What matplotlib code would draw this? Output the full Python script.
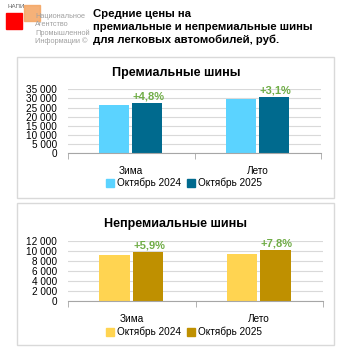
import matplotlib
matplotlib.use("Agg")
import matplotlib.pyplot as plt
from matplotlib.patches import Rectangle, Patch
import numpy as np

plt.rcParams["font.family"] = ["Liberation Sans", "DejaVu Sans"]

categories = ["Зима", "Лето"]
series_names = ["Октябрь 2024", "Октябрь 2025"]

premium_2024 = [26400, 29850]
premium_2025 = [27670, 30780]
premium_growth = ["+4,8%", "+3,1%"]
premium_ticks = [0, 5000, 10000, 15000, 20000, 25000, 30000, 35000]

mass_2024 = [9150, 9350]
mass_2025 = [9690, 10080]
mass_growth = ["+5,9%", "+7,8%"]
mass_ticks = [0, 2000, 4000, 6000, 8000, 10000, 12000]

W = H = 353


def fr(x, y, w, h):
    # pixel box (top-left origin) -> figure fraction
    return [x / W, 1 - (y + h) / H, w / W, h / H]


def fmt(v):
    return f"{v:,}".replace(",", " ")


fig = plt.figure(figsize=(W / 100, H / 100), dpi=100)
fig.patch.set_facecolor("white")

# logo
fig.patches.append(Rectangle((6 / W, 1 - 29 / H), 16 / W, 16 / H, transform=fig.transFigure,
                             color="#FF0000", zorder=1))
fig.patches.append(Rectangle((24 / W, 1 - 21 / H), 16 / W, 16 / H, transform=fig.transFigure,
                             color="#F4A460", alpha=0.85, zorder=2))
fig.text(7 / W, 1 - 7 / H, "НАПИ", fontsize=4.5, color="#666666", va="center")
for i, line in enumerate(["Национальное", "Агентство", "Промышленной", "Информации ©"]):
    fig.text(35 / W, 1 - (16.5 + 8.3 * i) / H, line, fontsize=5.3, color="#A0A0A0", va="center", zorder=3)

# title
for i, line in enumerate(["Средние цены на",
                          "премиальные и непремиальные шины",
                          "для легковых автомобилей, руб."]):
    fig.text(93 / W, 1 - (14 + 13 * i) / H, line, fontsize=8.2, fontweight="bold", va="center")

# panel frames
for y0, y1 in [(57, 198), (203, 345)]:
    fig.patches.append(Rectangle((17 / W, 1 - y1 / H), 317 / W, (y1 - y0) / H,
                                 transform=fig.transFigure, fill=False,
                                 edgecolor="#D9D9D9", linewidth=1.0))

panels = [
    dict(title="Премиальные шины", a=premium_2024, b=premium_2025, growth=premium_growth,
         ticks=premium_ticks, colors=["#5BD3FF", "#006A8E"],
         box=(68, 89.3, 253, 64), title_y=73, legend_y=183),
    dict(title="Непремиальные шины", a=mass_2024, b=mass_2025, growth=mass_growth,
         ticks=mass_ticks, colors=["#FFD451", "#BF9000"],
         box=(68, 240.7, 255, 60.3), title_y=224, legend_y=332),
]

x = np.arange(len(categories))
bw = 0.237
for p in panels:
    ax = fig.add_axes(fr(*p["box"]))
    ax.bar(x - 0.135, p["a"], bw, color=p["colors"][0], zorder=3)
    bars = ax.bar(x + 0.128, p["b"], bw, color=p["colors"][1], zorder=3)
    for rect, lab in zip(bars, p["growth"]):
        ax.annotate(lab, (rect.get_x() + rect.get_width() / 2, rect.get_height()),
                    xytext=(1, 1), textcoords="offset points", ha="center", va="bottom",
                    fontsize=8, fontweight="bold", color="#70AD47")
    ax.set_xlim(-0.5, 1.5)
    ax.set_ylim(0, p["ticks"][-1])
    ax.set_yticks(p["ticks"])
    ax.set_yticklabels([fmt(t) for t in p["ticks"]], fontsize=7.2)
    ax.tick_params(axis="y", length=0, pad=8)
    ax.set_xticks(x)
    ax.set_xticklabels(categories, fontsize=7.2)
    ax.tick_params(axis="x", length=0, pad=9)
    ax.set_xticks([-0.5, 0.5, 1.5], minor=True)
    ax.tick_params(axis="x", which="minor", length=4, color="#A6A6A6", direction="out")
    ax.grid(axis="y", color="#D9D9D9", linewidth=0.8, zorder=0)
    for s in ["top", "right", "left"]:
        ax.spines[s].set_visible(False)
    ax.spines["bottom"].set_color("#A6A6A6")
    ax.spines["bottom"].set_zorder(4)

    fig.text(176 / W, 1 - p["title_y"] / H, p["title"], fontsize=9, fontweight="bold",
             ha="center", va="center")
    handles = [Patch(color=c) for c in p["colors"]]
    fig.legend(handles, series_names, loc="center", bbox_to_anchor=(184 / W, 1 - p["legend_y"] / H),
               ncol=2, frameon=False, fontsize=7.2, handlelength=0.8, handleheight=0.8,
               handletextpad=0.3, columnspacing=0.6)

fig.savefig("out.png", dpi=100)
